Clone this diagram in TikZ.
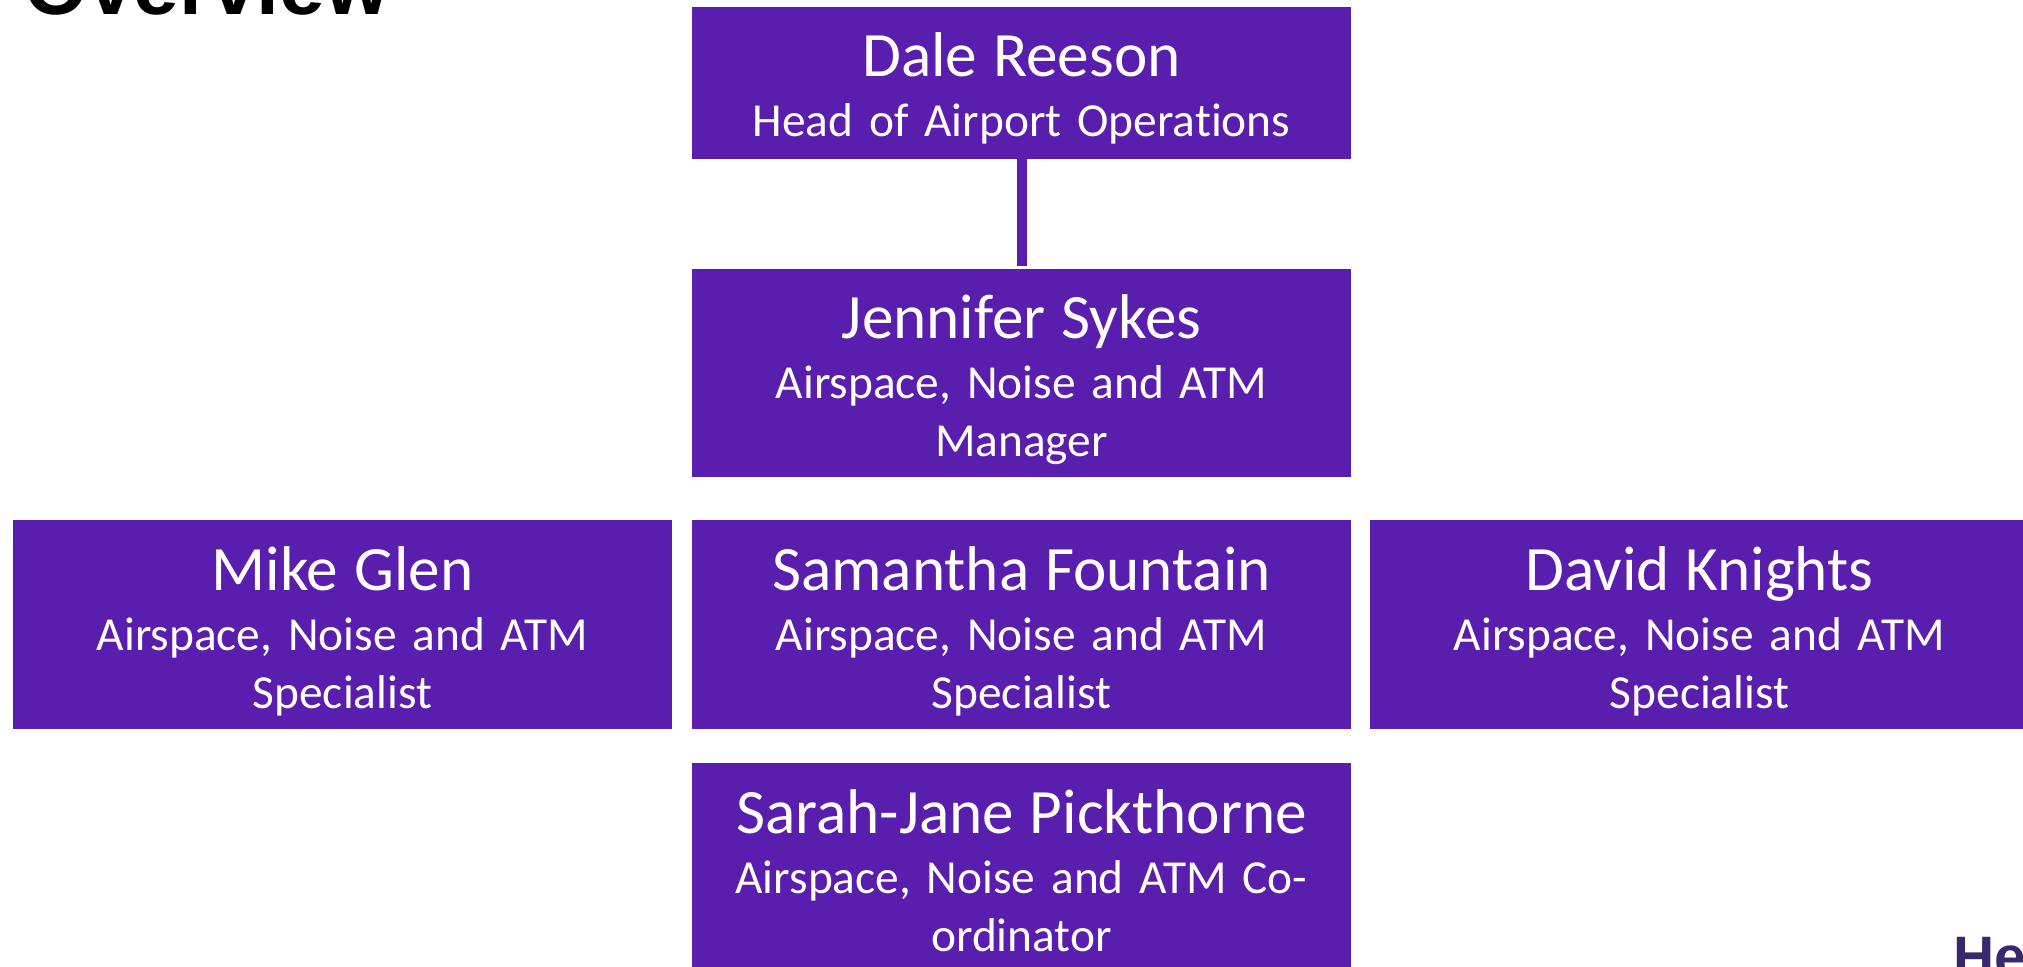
\documentclass[tikz,border=0pt]{standalone}
\usepackage{fontspec}
\setmainfont[RawFeature={-liga;-clig;-calt}, WordSpace=0.8]{Carlito}
\newfontfamily\headfont{Liberation Sans}
\usepackage{tikz}
\usetikzlibrary{arrows,positioning,shapes,calc}
\definecolor{orgpurple}{RGB}{89,30,174}
\definecolor{logoblue}{RGB}{58,40,108}

\begin{document}
\begin{tikzpicture}[x=0.5pt, y=-0.5pt,
    person/.style={fill=orgpurple, text=white, text width=329.5pt, align=center, inner sep=0pt, text height=35pt, text depth=69pt, font=\fontsize{23.7}{29}\selectfont},
    head/.style={person, text depth=41pt},
    link/.style={draw=orgpurple, line width=5pt, shorten >=1.5pt}
    ]
    %cadre
    \useasboundingbox (0,0) rectangle (2023,967);
    \clip (0,0) rectangle (2023,967);
    \fill[white] (0,0) rectangle (2023,967);

    \node[font=\headfont\bfseries\fontsize{41}{48}\selectfont, anchor=base west, inner sep=0pt] (title) at (24,15) {Overview};
    \node[font=\headfont\bfseries\fontsize{28.5}{33}\selectfont, text=logoblue, anchor=base west, inner sep=0pt] (logo) at (1953,976) {He};

    \node[head] (dale)          at (1021.5,83)  {{\fontsize{31.6}{29}\selectfont Dale Reeson}\\[1pt] Head of Airport Operations};
    \node[person] (jennifer)    at (1021.5,373) {{\fontsize{31.6}{29}\selectfont Jennifer Sykes}\\[1pt] Airspace, Noise and ATM\\ Manager};
    \node[person] (mike)        at (342.5,624.5)  {{\fontsize{31.6}{29}\selectfont Mike Glen}\\[1pt] Airspace, Noise and ATM\\ Specialist};
    \node[person] (samantha)    at (1021.5,624.5) {{\fontsize{31.6}{29}\selectfont Samantha Fountain}\\[1pt] Airspace, Noise and ATM\\ Specialist};
    \node[person] (david)       at (1699.5,624.5) {{\fontsize{31.6}{29}\selectfont David Knights}\\[1pt] Airspace, Noise and ATM\\ Specialist};
    \node[person] (sarah)       at (1021.5,867) {{\fontsize{31.6}{29}\selectfont Sarah-Jane Pickthorne}\\[1pt] Airspace, Noise and ATM Co-\\ ordinator};

    \path (dale) edge [link] (jennifer);
\end{tikzpicture}
\end{document}
